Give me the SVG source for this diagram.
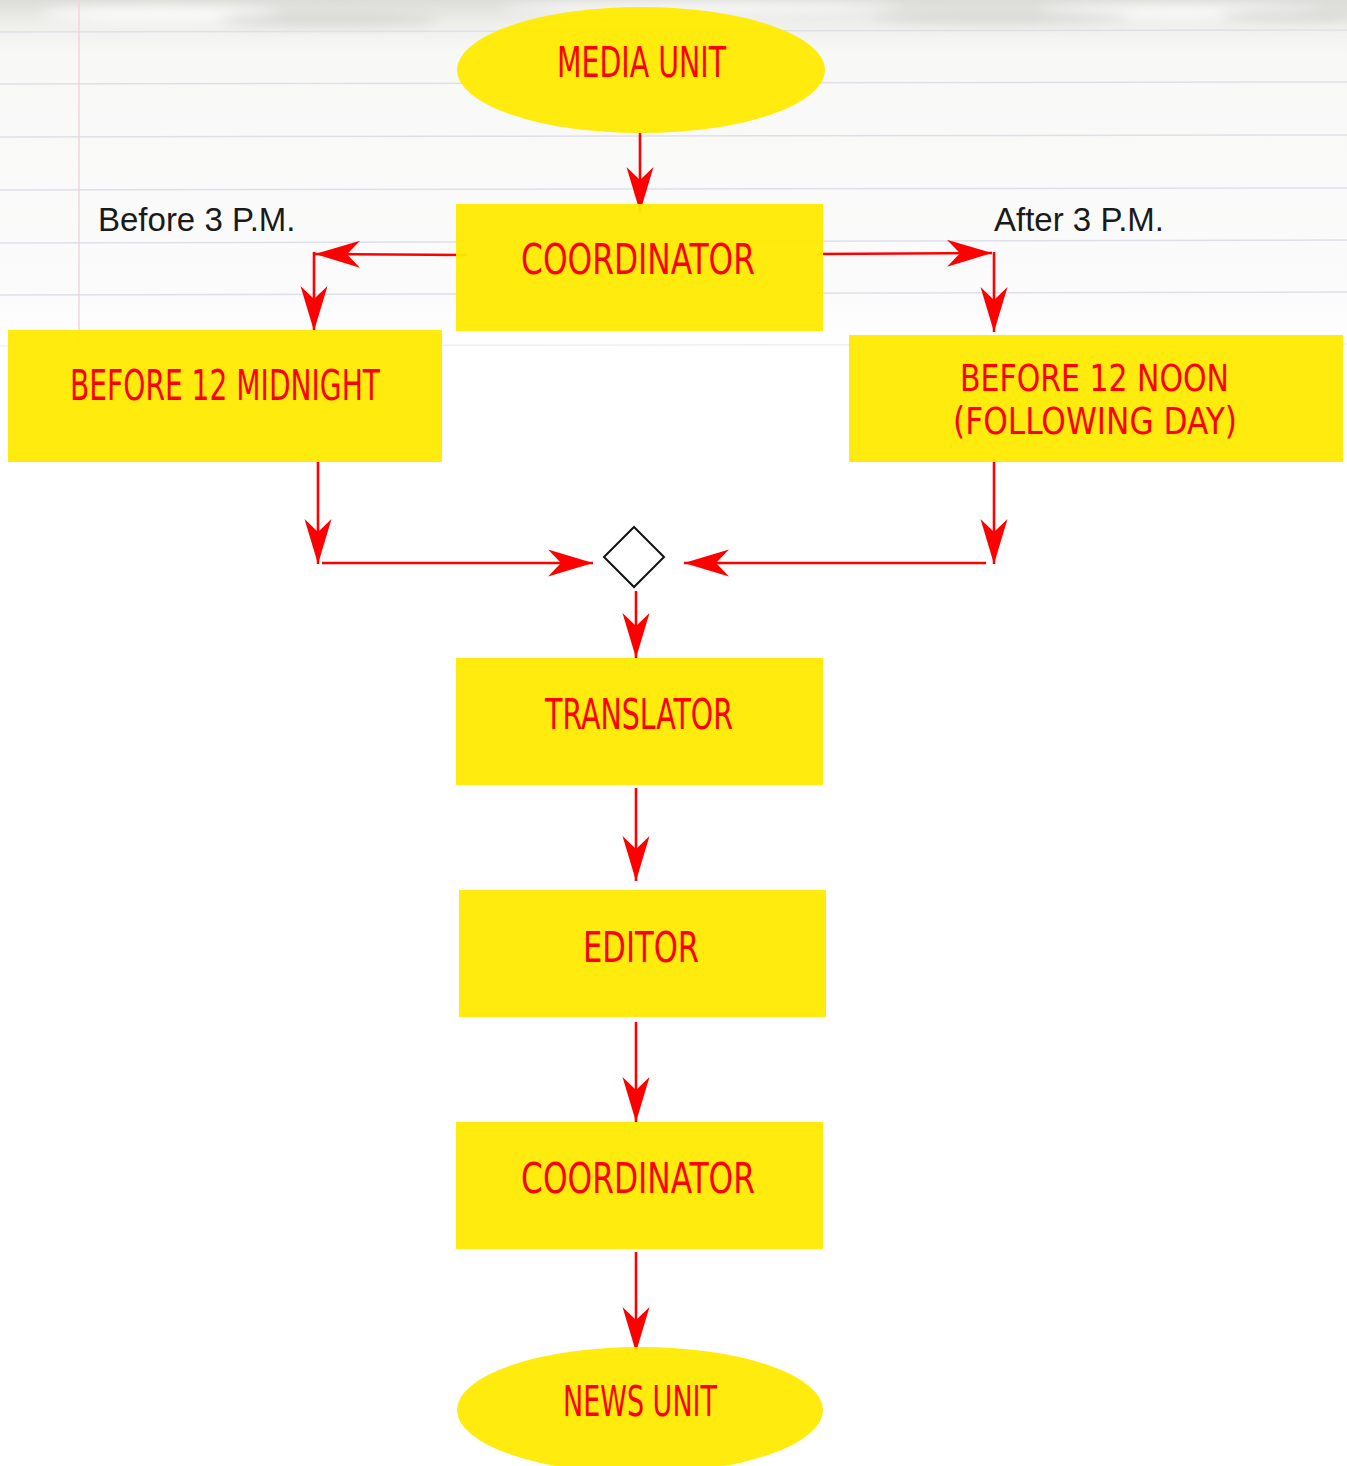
<svg xmlns="http://www.w3.org/2000/svg" width="1347" height="1466" viewBox="0 0 1347 1466">
  <defs>
    <style>
      .node { fill: #FFEA00; fill-opacity: 0.95; }
      .label { font-family: "DejaVu Sans Condensed", "DejaVu Sans", sans-serif; font-size: 42px; fill: #FF0000; }
      .label.tight { font-size: 37px; }
      .note { font-family: "Liberation Sans", Arial, sans-serif; font-size: 33px; fill: #1a1a1a; }
      .edge { stroke: #FF0000; stroke-width: 2.6; fill: none; }
      .rule { stroke: #dde0e9; stroke-width: 1.5; }
    </style>
    <marker id="head" viewBox="-46 -15 48 30" refX="0" refY="0" markerWidth="48" markerHeight="30" markerUnits="userSpaceOnUse" orient="auto">
      <path d="M0,0 L-45,-13.5 L-32,0 L-45,13.5 Z" fill="#FF0000"/>
    </marker>
    <linearGradient id="paper" x1="0" y1="0" x2="0" y2="1">
      <stop offset="0" stop-color="#dcdcd8"/>
      <stop offset="0.07" stop-color="#efefec"/>
      <stop offset="0.15" stop-color="#f8f8f7"/>
      <stop offset="0.85" stop-color="#fbfbfb"/>
      <stop offset="1" stop-color="#ffffff"/>
    </linearGradient>
    <filter id="soft" x="-20%" y="-50%" width="140%" height="200%">
      <feGaussianBlur stdDeviation="6"/>
    </filter>
  </defs>

  <!-- sheet of lined paper -->
  <rect width="1347" height="1466" fill="#ffffff"/>
  <rect width="1347" height="350" fill="url(#paper)"/>
  <g filter="url(#soft)" fill="#ffffff" opacity="0.8">
    <ellipse cx="160" cy="14" rx="120" ry="8"/>
    <ellipse cx="700" cy="8" rx="200" ry="6"/>
    <ellipse cx="1180" cy="12" rx="140" ry="7"/>
  </g>
  <g filter="url(#soft)" fill="#c9c9c4" opacity="0.55">
    <ellipse cx="330" cy="20" rx="110" ry="7"/>
    <ellipse cx="1000" cy="18" rx="130" ry="6"/>
    <ellipse cx="1290" cy="16" rx="70" ry="6"/>
  </g>
  <g class="rules">
    <line class="rule" x1="0" y1="32" x2="1347" y2="30"/>
    <line class="rule" x1="0" y1="84" x2="1347" y2="82"/>
    <line class="rule" x1="0" y1="137" x2="1347" y2="135"/>
    <line class="rule" x1="0" y1="190" x2="1347" y2="188"/>
    <line class="rule" x1="0" y1="243" x2="1347" y2="240"/>
    <line class="rule" x1="0" y1="295" x2="1347" y2="292"/>
    <line class="rule" x1="0" y1="346" x2="1347" y2="344" opacity="0.5"/>
    <line x1="79" y1="0" x2="79" y2="345" stroke="#f0d0d6" stroke-width="1.3"/>
  </g>

  <!-- connectors -->
  <g id="connectors">
    <line class="edge" x1="640" y1="133" x2="640" y2="212" marker-end="url(#head)"/>
    <line class="edge" x1="467" y1="255" x2="315" y2="254" marker-end="url(#head)"/>
    <line class="edge" x1="314" y1="252" x2="314" y2="331" marker-end="url(#head)"/>
    <line class="edge" x1="818" y1="254" x2="992" y2="253" marker-end="url(#head)"/>
    <line class="edge" x1="994" y1="252" x2="994" y2="332" marker-end="url(#head)"/>
    <line class="edge" x1="318" y1="458" x2="318" y2="564" marker-end="url(#head)"/>
    <line class="edge" x1="322" y1="563" x2="593" y2="563" marker-end="url(#head)"/>
    <line class="edge" x1="994" y1="458" x2="994" y2="564" marker-end="url(#head)"/>
    <line class="edge" x1="986" y1="563" x2="684" y2="563" marker-end="url(#head)"/>
    <line class="edge" x1="636" y1="591" x2="636" y2="658" marker-end="url(#head)"/>
    <line class="edge" x1="636" y1="788" x2="636" y2="881" marker-end="url(#head)"/>
    <line class="edge" x1="636" y1="1022" x2="636" y2="1122" marker-end="url(#head)"/>
    <line class="edge" x1="636" y1="1252" x2="636" y2="1352" marker-end="url(#head)"/>
  </g>

  <!-- side notes -->
  <text class="note" x="98" y="231">Before 3 P.M.</text>
  <text class="note" x="994" y="231">After 3 P.M.</text>

  <!-- nodes -->
  <g id="media-unit">
    <ellipse class="node" cx="641" cy="70" rx="184" ry="63"/>
    <text class="label" x="557" y="77" textLength="169" lengthAdjust="spacingAndGlyphs">MEDIA UNIT</text>
  </g>
  <g id="coordinator-in">
    <rect class="node" x="456" y="204" width="367" height="127"/>
    <text class="label" x="521" y="274" textLength="234" lengthAdjust="spacingAndGlyphs">COORDINATOR</text>
  </g>
  <g id="before-midnight">
    <rect class="node" x="8" y="330" width="434" height="132"/>
    <text class="label" x="70" y="400" textLength="310" lengthAdjust="spacingAndGlyphs">BEFORE 12 MIDNIGHT</text>
  </g>
  <g id="before-noon">
    <rect class="node" x="849" y="335" width="494" height="127"/>
    <text class="label tight" x="960" y="391" textLength="269" lengthAdjust="spacingAndGlyphs">BEFORE 12 NOON</text>
    <text class="label tight" x="953" y="434" textLength="284" lengthAdjust="spacingAndGlyphs">(FOLLOWING DAY)</text>
  </g>
  <g id="merge">
    <path d="M634,527 L664,557 L634,587 L604,557 Z" fill="#ffffff" stroke="#111111" stroke-width="2"/>
  </g>
  <g id="translator">
    <rect class="node" x="456" y="658" width="367" height="127"/>
    <text class="label" x="545" y="729" textLength="188" lengthAdjust="spacingAndGlyphs">TRANSLATOR</text>
  </g>
  <g id="editor">
    <rect class="node" x="459" y="890" width="367" height="127"/>
    <text class="label" x="583" y="962" textLength="116" lengthAdjust="spacingAndGlyphs">EDITOR</text>
  </g>
  <g id="coordinator-out">
    <rect class="node" x="456" y="1122" width="367" height="127"/>
    <text class="label" x="521" y="1193" textLength="234" lengthAdjust="spacingAndGlyphs">COORDINATOR</text>
  </g>
  <g id="news-unit">
    <ellipse class="node" cx="640" cy="1410" rx="183" ry="63"/>
    <text class="label" x="563" y="1416" textLength="154" lengthAdjust="spacingAndGlyphs">NEWS UNIT</text>
  </g>
</svg>
